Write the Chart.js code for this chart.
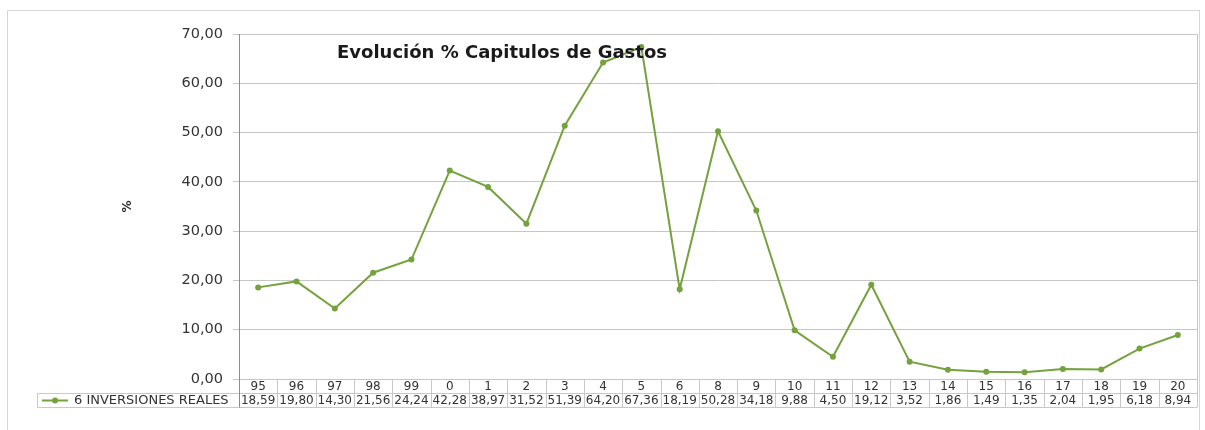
<!DOCTYPE html>
<html>
<head>
<meta charset="utf-8">
<script src="https://cdn.jsdelivr.net/npm/chart.js@4"></script>
<style>
  html, body { margin: 0; padding: 0; background: #fff; }
  #wrap { width: 1205px; height: 430px; position: relative; }
</style>
</head>
<body>
<div id="wrap"><canvas id="gastosChart" width="1205" height="430"></canvas></div>
<script>
const years = ['95', '96', '97', '98', '99', '0', '1', '2', '3', '4', '5', '6', '8', '9', '10', '11', '12', '13', '14', '15', '16', '17', '18', '19', '20'];
const inversiones = [18.59, 19.80, 14.30, 21.56, 24.24, 42.28, 38.97, 31.52, 51.39, 64.20, 67.36, 18.19, 50.28, 34.18, 9.88, 4.50, 19.12, 3.52, 1.86, 1.49, 1.35, 2.04, 1.95, 6.18, 8.94];
const yTicks = [0, 10, 20, 30, 40, 50, 60, 70];
const seriesLabel = '6 INVERSIONES REALES';
const chartTitle = 'Evolución % Capitulos de Gastos';

const lineColor = '#74a33e';
const gridColor = '#c6c6c6';
const tableColor = '#c8c8c8';
const textColor = '#333';

// 2 decimals with a comma, like the spreadsheet
const fmt = v => Number(v).toFixed(2).replace('.', ',');

// outer frame + right edge of the plot area
const framePlugin = {
    id: 'frame',
    beforeDraw(chart) {
        const { ctx, chartArea } = chart;
        ctx.save();
        ctx.strokeStyle = '#d6d6d6';
        ctx.lineWidth = 1;
        ctx.strokeRect(7.5, 10.5, 1192, 440);
        ctx.strokeStyle = gridColor;
        ctx.beginPath();
        ctx.moveTo(Math.round(chartArea.right) + 0.5, chartArea.top);
        ctx.lineTo(Math.round(chartArea.right) + 0.5, chartArea.bottom);
        ctx.stroke();
        ctx.restore();
    }
};

// title drawn inside the plot area
const titlePlugin = {
    id: 'innerTitle',
    afterDatasetsDraw(chart) {
        const { ctx } = chart;
        ctx.save();
        ctx.font = 'bold 18px "DejaVu Sans"';
        ctx.fillStyle = '#1a1a1a';
        ctx.textAlign = 'left';
        ctx.textBaseline = 'middle';
        ctx.fillText(chartTitle, 337, 53);
        ctx.restore();
    }
};

// data table under the x axis
const tablePlugin = {
    id: 'dataTable',
    afterDraw(chart) {
        const { ctx, chartArea } = chart;
        const x = chart.scales.x;
        const n = years.length;
        const colW = (chartArea.right - chartArea.left) / n;
        const row1 = chartArea.bottom;
        const row2 = row1 + 14;
        const row3 = row2 + 14;
        const legendLeft = 37.5;

        ctx.save();
        ctx.strokeStyle = tableColor;
        ctx.lineWidth = 1;
        ctx.beginPath();
        // horizontal rules
        ctx.moveTo(legendLeft, Math.round(row2) + 0.5);
        ctx.lineTo(chartArea.right, Math.round(row2) + 0.5);
        ctx.moveTo(legendLeft, Math.round(row3) + 0.5);
        ctx.lineTo(chartArea.right, Math.round(row3) + 0.5);
        // legend cell left edge
        ctx.moveTo(legendLeft, Math.round(row2) + 0.5);
        ctx.lineTo(legendLeft, Math.round(row3) + 0.5);
        // column separators
        for (let i = 1; i <= n; i++) {
            const xx = Math.round(x.getPixelForValue(i) - colW / 2) + 0.5;
            ctx.moveTo(xx, row1);
            ctx.lineTo(xx, Math.round(row3) + 0.5);
        }
        ctx.stroke();

        // left axis runs down through the table
        ctx.strokeStyle = '#8c8c8c';
        ctx.beginPath();
        ctx.moveTo(Math.round(chartArea.left) + 0.5, row1);
        ctx.lineTo(Math.round(chartArea.left) + 0.5, Math.round(row3) + 0.5);
        ctx.stroke();

        ctx.fillStyle = textColor;
        ctx.font = '12px "DejaVu Sans"';
        ctx.textAlign = 'center';
        ctx.textBaseline = 'middle';
        years.forEach((yr, i) => {
            const cx = x.getPixelForValue(i);
            ctx.fillText(yr, cx, row1 + 7.5);
            ctx.fillText(fmt(inversiones[i]), cx, row2 + 7.5);
        });

        // legend key
        const ly = row2 + 7.5;
        ctx.strokeStyle = lineColor;
        ctx.lineWidth = 2;
        ctx.beginPath();
        ctx.moveTo(42, ly);
        ctx.lineTo(68, ly);
        ctx.stroke();
        ctx.fillStyle = lineColor;
        ctx.beginPath();
        ctx.arc(55, ly, 3, 0, Math.PI * 2);
        ctx.fill();
        ctx.fillStyle = textColor;
        ctx.textAlign = 'left';
        ctx.font = '13px "DejaVu Sans"';
        ctx.fillText(seriesLabel, 74, ly);
        ctx.restore();
    }
};

const ctx = document.getElementById('gastosChart');
new Chart(ctx, {
    type: 'line',
    data: {
        labels: years,
        datasets: [{
            label: seriesLabel,
            data: inversiones,
            borderColor: lineColor,
            backgroundColor: lineColor,
            borderWidth: 2,
            pointRadius: 3,
            pointBackgroundColor: lineColor,
            pointBorderWidth: 0,
            tension: 0
        }]
    },
    options: {
        responsive: false,
        animation: false,
        layout: { padding: { left: 0, right: 8, top: 34, bottom: 51 } },
        plugins: {
            legend: { display: false },
            tooltip: { enabled: false }
        },
        scales: {
            x: {
                display: false,
                offset: true
            },
            y: {
                min: 0,
                max: 70,
                afterBuildTicks: scale => {
                    scale.ticks = yTicks.map(v => ({ value: v }));
                },
                afterFit: scale => {
                    scale.width = 239;
                },
                ticks: {
                    callback: v => fmt(v),
                    color: textColor,
                    font: { family: 'DejaVu Sans', size: 14.5 },
                    padding: 10
                },
                grid: { color: gridColor, tickLength: 6 },
                border: { color: '#8c8c8c' },
                title: {
                    display: true,
                    text: '%',
                    color: textColor,
                    font: { family: 'DejaVu Sans', size: 12, weight: 'bold' },
                    padding: { top: 121, bottom: 0 }
                }
            }
        }
    },
    plugins: [framePlugin, titlePlugin, tablePlugin]
});
</script>
</body>
</html>
